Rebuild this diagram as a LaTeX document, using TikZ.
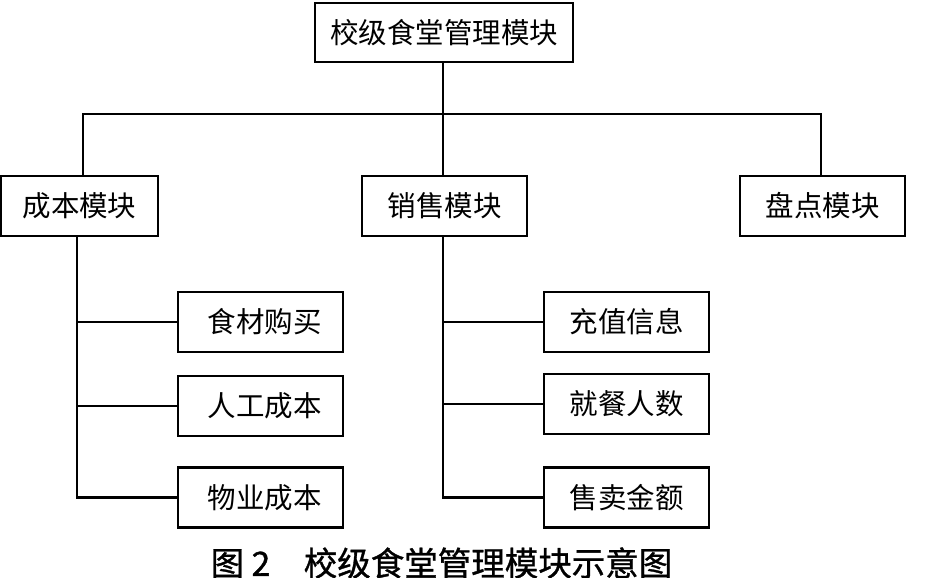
\documentclass[tikz,border=0pt]{standalone}
\usepackage{fontspec}
\newfontfamily\song{Noto Sans CJK SC}
\newfontfamily\hei[FakeBold=1]{Noto Sans CJK SC}
\begin{document}
\begin{tikzpicture}[x=1pt,y=-1pt,
  box/.style={draw, line width=2.8pt, inner sep=0pt, minimum height=60pt, minimum width=165pt, font=\song\fontsize{28.5}{28.5}\selectfont},
  conn/.style={line width=2.8pt, line cap=rect}]
\useasboundingbox (0,0) rectangle (945,578);
\node[box, minimum width=258pt, minimum height=59pt] (top) at (444,32.5) {校级食堂管理模块};
\node[box, minimum width=157pt] (lm) at (79.5,206) {成本模块};
\node[box] (mm) at (444.5,206) {销售模块};
\node[box] (rm) at (822.5,206) {盘点模块};
\node[box] (l1) at (260.5,322) {\hspace{8pt}食材购买};
\node[box] (l2) at (260.5,406) {\hspace{8pt}人工成本};
\node[box] (l3) at (260.5,497.5) {\hspace{8pt}物业成本};
\node[box] (m1) at (626.5,322) {充值信息};
\node[box] (m2) at (626.5,404) {就餐人数};
\node[box] (m3) at (626.5,497.5) {售卖金额};
\coordinate (hb) at (443,114);
\coordinate (hl) at (83,114);
\coordinate (hr) at (821,114);
\coordinate (lt) at (77,0);
\coordinate (mt) at (443,0);
\draw[conn] (top.south -| hb) -- (hb);
\draw[conn] (hl |- lm.north) -- (hl) -- (hr) -- (hr |- rm.north);
\draw[conn] (hb) -- (hb |- mm.north);
\draw[conn] (lm.south -| lt) |- (l3.west);
\draw[conn] (lt |- l1.west) -- (l1.west);
\draw[conn] (lt |- l2.west) -- (l2.west);
\draw[conn] (mm.south -| mt) |- (m3.west);
\draw[conn] (mt |- m1.west) -- (m1.west);
\draw[conn] (mt |- m2.west) -- (m2.west);
\node[font=\hei\fontsize{33.5}{33.5}\selectfont, inner sep=0pt] (cap) at (441.5,563) {图 2\hspace{1em}校级食堂管理模块示意图};
\end{tikzpicture}
\end{document}
